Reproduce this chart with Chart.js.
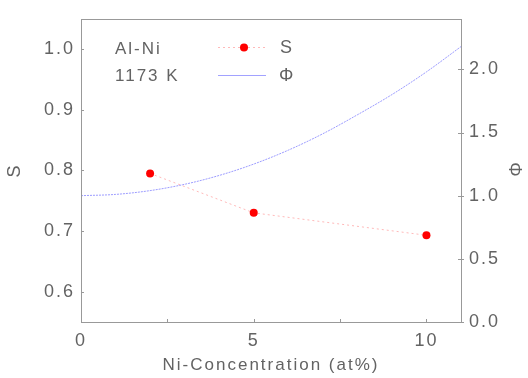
<!DOCTYPE html>
<html>
<head>
<meta charset="utf-8">
<script src="https://cdn.jsdelivr.net/npm/chart.js@4.4.1/dist/chart.umd.min.js"></script>
<style>
  html, body { margin: 0; padding: 0; background: #fff; }
  #wrap { width: 528px; height: 378px; }
</style>
</head>
<body>
<div id="wrap"><canvas id="alniChart" width="528" height="378"></canvas></div>
<script>
// S measurements (Ni at%, S)
const sConc = [2, 5, 10];
const sVals = [0.795, 0.730, 0.693];

// Phi curve (Ni at%, Phi)
const phiConc = [0, 1, 2, 3, 4, 5, 6, 7, 8, 9, 10, 11];
const phiVals = [1.00, 1.01, 1.04, 1.09, 1.16, 1.25, 1.36, 1.49, 1.64, 1.80, 1.98, 2.18];

// tick labels
const xTicks = [0, 5, 10];
const xMinorTicks = [2.5, 5, 7.5, 10];
const sTicks = [0.6, 0.7, 0.8, 0.9, 1.0];
const phiTicks = [0, 0.5, 1.0, 1.5, 2.0];

const legendNote = ['Al-Ni', '1173 K'];

const txtColor = '#636363';
const axisColor = '#999';
const fontFam = "'Liberation Sans', Arial, sans-serif";

function setTicks(vals) {
  return function (scale) { scale.ticks = vals.map(v => ({ value: v })); };
}

// frame, inward tick marks, note text and legend
const decorPlugin = {
  id: 'decor',
  beforeDraw(chart) {
    chart.ctx.letterSpacing = '2px';
  },
  afterDatasetsDraw(chart) {
    const ctx = chart.ctx;
    const a = chart.chartArea;
    const sx = chart.scales.x, sl = chart.scales.yS, sr = chart.scales.yPhi;
    ctx.save();
    ctx.strokeStyle = axisColor;
    ctx.lineWidth = 1;
    ctx.strokeRect(Math.round(a.left) + 0.5, Math.round(a.top) + 0.5,
      Math.round(a.right - a.left), Math.round(a.bottom - a.top));
    ctx.beginPath();
    xMinorTicks.forEach(v => {
      const px = Math.round(sx.getPixelForValue(v)) + 0.5;
      ctx.moveTo(px, a.bottom); ctx.lineTo(px, a.bottom - 3);
    });
    sTicks.forEach(v => {
      const py = Math.round(sl.getPixelForValue(v)) + 0.5;
      ctx.moveTo(a.left, py); ctx.lineTo(a.left + 3, py);
    });
    phiTicks.forEach(v => {
      const py = Math.round(sr.getPixelForValue(v)) + 0.5;
      ctx.moveTo(a.right - 3, py); ctx.lineTo(a.right + 3, py);
    });
    ctx.stroke();

    ctx.letterSpacing = '2px';
    ctx.fillStyle = txtColor;
    ctx.font = '17px ' + fontFam;
    ctx.textBaseline = 'middle';
    ctx.textAlign = 'left';
    ctx.fillText(legendNote[0], 115, 49);
    ctx.fillText(legendNote[1], 115, 76);

    // legend
    const dsS = chart.data.datasets[0], dsP = chart.data.datasets[1];
    ctx.save();
    ctx.strokeStyle = dsS.borderColor;
    ctx.setLineDash(dsS.borderDash);
    ctx.beginPath(); ctx.moveTo(218, 47.5); ctx.lineTo(268, 47.5); ctx.stroke();
    ctx.restore();
    ctx.fillStyle = dsS.pointBackgroundColor;
    ctx.beginPath(); ctx.arc(244, 47.5, 4, 0, Math.PI * 2); ctx.fill();
    ctx.strokeStyle = 'rgba(100, 100, 255, 0.6)';
    ctx.beginPath(); ctx.moveTo(218, 75.5); ctx.lineTo(266, 75.5); ctx.stroke();
    ctx.fillStyle = txtColor;
    ctx.font = '18px ' + fontFam;
    ctx.fillText(dsS.label, 280, 48);
    ctx.fillText(dsP.label, 279, 76);
    ctx.restore();
  }
};

const tickFont = { family: fontFam, size: 18 };

new Chart(document.getElementById('alniChart'), {
  type: 'line',
  data: {
    datasets: [{
      label: 'S',
      data: sConc.map((c, i) => ({ x: c, y: sVals[i] })),
      yAxisID: 'yS',
      borderColor: 'rgba(255, 80, 80, 0.4)',
      borderDash: [2, 3],
      borderWidth: 1,
      pointRadius: 4,
      pointBackgroundColor: '#ff0000',
      pointBorderWidth: 0
    }, {
      label: 'Φ',
      data: phiConc.map((c, i) => ({ x: c, y: phiVals[i] })),
      yAxisID: 'yPhi',
      borderColor: 'rgba(90, 90, 255, 0.6)',
      borderDash: [2, 1],
      borderWidth: 1,
      pointRadius: 0,
      cubicInterpolationMode: 'monotone'
    }]
  },
  options: {
    responsive: false,
    animation: false,
    layout: { padding: { top: 11, left: 0, right: 0, bottom: 0 } },
    plugins: { legend: { display: false }, tooltip: { enabled: false } },
    scales: {
      x: {
        type: 'linear', position: 'bottom', min: 0, max: 11,
        afterBuildTicks: setTicks(xTicks),
        afterFit(s) { s.height = 56; },
        grid: { display: false, drawTicks: false },
        border: { display: false },
        ticks: { color: txtColor, font: tickFont, padding: 8, maxRotation: 0 },
        title: { display: true, text: 'Ni-Concentration (at%)', color: txtColor,
          font: { family: fontFam, size: 17 }, padding: { top: 0, bottom: 2 } }
      },
      yS: {
        type: 'linear', position: 'left', min: 0.55, max: 1.05,
        afterBuildTicks: setTicks(sTicks),
        afterFit(s) { s.width = 81; },
        grid: { display: false, drawTicks: false },
        border: { display: false },
        ticks: { color: txtColor, font: tickFont, padding: 6,
          callback: v => v.toFixed(1) },
        title: { display: true, text: 'S', color: txtColor,
          font: { family: fontFam, size: 18 }, padding: 4 }
      },
      yPhi: {
        type: 'linear', position: 'right', min: 0, max: 2.4,
        afterBuildTicks: setTicks(phiTicks),
        afterFit(s) { s.width = 67; },
        grid: { display: false, drawTicks: false },
        border: { display: false },
        ticks: { color: txtColor, font: tickFont, padding: 8,
          callback: v => v.toFixed(1) },
        title: { display: true, text: 'Φ', color: txtColor,
          font: { family: fontFam, size: 18 }, padding: 3 }
      }
    }
  },
  plugins: [decorPlugin]
});
</script>
</body>
</html>
